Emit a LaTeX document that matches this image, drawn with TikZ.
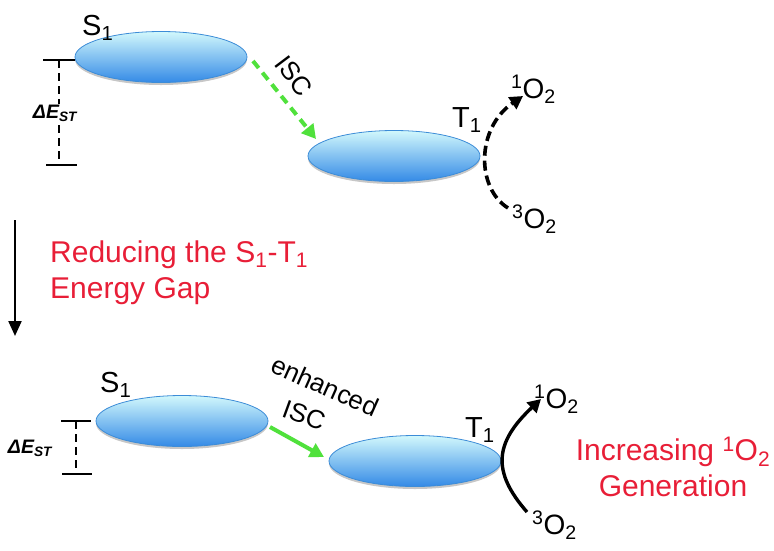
\documentclass[tikz,border=0pt]{standalone}
\usepackage{fontspec}
\setmainfont{Liberation Sans}
\usetikzlibrary{arrows.meta,shapes.geometric,shadows}
\definecolor{redtxt}{RGB}{232,30,55}
\definecolor{isc}{RGB}{80,225,60}
\definecolor{elltop}{RGB}{210,248,252}
\definecolor{ellmid}{RGB}{140,214,244}
\definecolor{ellbot}{RGB}{52,138,230}
\definecolor{ellline}{RGB}{60,140,215}
\begin{document}
\begin{tikzpicture}[x=1pt,y=-1pt,
  lvl/.style={ellipse, draw=ellline, line width=0.8pt, minimum width=172pt, minimum height=51pt,
    inner sep=0pt, top color=elltop, middle color=ellmid, bottom color=ellbot,
    drop shadow={shadow xshift=0pt, shadow yshift=-2.5pt, opacity=0.22, fill=black}},
  lab/.style={inner sep=0pt, anchor=base west, font=\fontsize{29}{34}\selectfont},
  olab/.style={inner sep=0pt, anchor=base west, font=\fontsize{28}{32}\selectfont},
  red/.style={inner sep=0pt, text=redtxt, font=\fontsize{30}{36}\selectfont},
  dE/.style={inner sep=1pt, font=\fontsize{19.5}{23}\selectfont\bfseries\itshape},
  bar/.style={line width=2.7pt},
  bardash/.style={line width=2.5pt, dash pattern=on 8pt off 5pt},
  blkdash/.style={line width=3.6pt, dash pattern=on 10pt off 5pt, -{Triangle[length=13pt,width=14pt]}},
  blk/.style={line width=3.4pt, -{Triangle[length=13pt,width=14pt]}},
]
\useasboundingbox (0,0) rectangle (774,550);

% ---------- top ----------
\node[lvl] (S1t) at (161,57) {};
\node[lvl] (T1t) at (394,156) {};
\node[lab] (S1tl) at (82,35) {S\textsubscript{1}};
\node[lab] (T1tl) at (452,127) {T\textsubscript{1}};

\coordinate (ta1) at (43,60);  \coordinate (ta2) at (75,60);
\coordinate (tv1) at (59,60);  \coordinate (tv2) at (59,165);
\coordinate (tb1) at (46,165); \coordinate (tb2) at (77,165);
\draw[bar] (ta1) -- (ta2);
\draw[bar] (tb1) -- (tb2);
\draw[bardash] (tv1) -- (tv2);
\node[dE, fill=white] (dEt) at (55,113) {ΔE\textsubscript{ST}};

\coordinate (isc1) at (253,61);
\coordinate (isc2) at (316,139);
\draw[isc, line width=4pt, dash pattern=on 9pt off 6pt, -{Triangle[length=14pt,width=15pt]}] (isc1) -- (isc2);
\node[rotate=-53, font=\fontsize{26}{30}\selectfont, inner sep=0pt] (iscl) at (294,76) {ISC};

\node[olab] (o1t) at (511,98) {\textsuperscript{1}O\textsubscript{2}};
\node[olab] (o3t) at (512,228) {\textsuperscript{3}O\textsubscript{2}};
\coordinate (ct1) at (508,208);
\coordinate (ct2) at (523,96);
\draw[blkdash] (ct1) .. controls (476,188) and (476,128) .. (ct2);

% ---------- middle ----------
\coordinate (da1) at (15,220);
\coordinate (da2) at (15,336);
\draw[line width=2.2pt, -{Triangle[length=15pt,width=13pt]}] (da1) -- (da2);
\node[red, anchor=base west] (r1) at (50,262) {Reducing the S\textsubscript{1}-T\textsubscript{1}};
\node[red, anchor=base west] (r2) at (50,298) {Energy Gap};

% ---------- bottom ----------
\node[lvl] (S1b) at (182,421) {};
\node[lvl] (T1b) at (415,461) {};
\node[lab] (S1bl) at (100,392) {S\textsubscript{1}};
\node[lab] (T1bl) at (465,437) {T\textsubscript{1}};

\coordinate (ba1) at (61,421); \coordinate (ba2) at (91,421);
\coordinate (bv1) at (76,421); \coordinate (bv2) at (76,474);
\coordinate (bb1) at (62,474); \coordinate (bb2) at (92,474);
\draw[bar] (ba1) -- (ba2);
\draw[bar] (bb1) -- (bb2);
\draw[bardash] (bv1) -- (bv2);
\node[dE] (dEb) at (30,448) {ΔE\textsubscript{ST}};

\coordinate (e1) at (270,427);
\coordinate (e2) at (324,457);
\draw[isc, line width=4pt, -{Triangle[length=14pt,width=15pt]}] (e1) -- (e2);
\node[rotate=-24, font=\fontsize{26}{30}\selectfont, inner sep=0pt] (enh) at (325,386) {enhanced};
\node[rotate=-20, font=\fontsize{26}{30}\selectfont, inner sep=0pt] (iscb) at (304,415) {ISC};

\node[olab] (o1b) at (534,408) {\textsuperscript{1}O\textsubscript{2}};
\node[olab] (o3b) at (532,534) {\textsuperscript{3}O\textsubscript{2}};
\coordinate (cb1) at (527,512);
\coordinate (cb2) at (541,399);
\draw[blk] (cb1) .. controls (492,472) and (494,443) .. (cb2);

\node[red, align=center] (inc) at (673,467) {Increasing \textsuperscript{1}O\textsubscript{2}\\Generation};
\end{tikzpicture}
\end{document}
